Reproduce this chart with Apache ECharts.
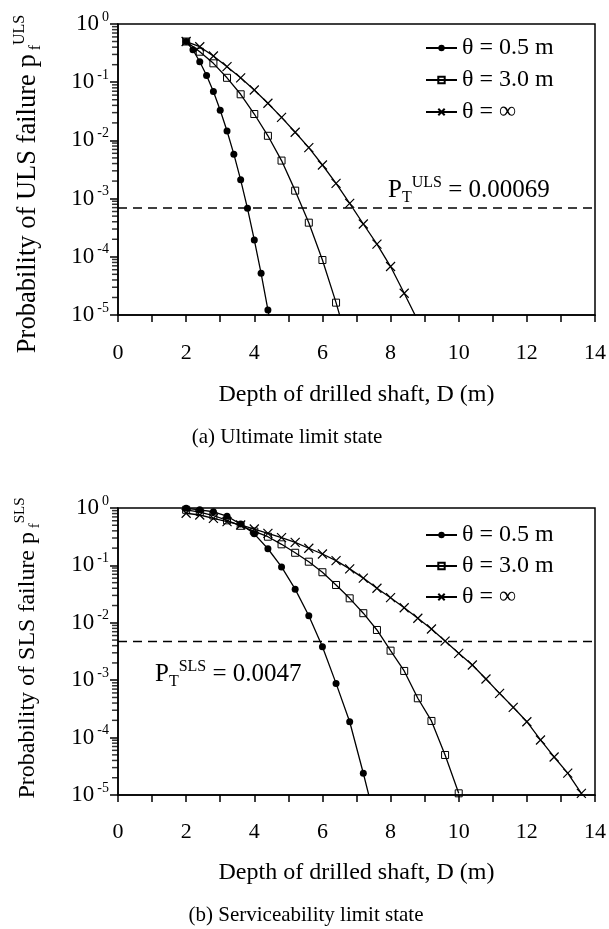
<!DOCTYPE html>
<html>
<head>
<meta charset="utf-8">
<script src="https://cdn.jsdelivr.net/npm/echarts@6/dist/echarts.min.js"></script>
<style>
html, body { margin: 0; padding: 0; background: #fff; }
#chart { width: 609px; height: 929px; }
</style>
</head>
<body>
<div id="chart"></div>
<script>
// ULS
var ulsD05 = [2.0, 2.2, 2.4, 2.6, 2.8, 3.0, 3.2, 3.4, 3.6, 3.8, 4.0, 4.2, 4.4, 4.6];
var ulsP05 = [0.50, 0.36, 0.225, 0.13, 0.069, 0.033, 0.0145, 0.0058, 0.0021, 0.00068, 0.000195, 5.2e-5, 1.22e-5, 2.9e-6];
var ulsD30 = [2.0, 2.4, 2.8, 3.2, 3.6, 4.0, 4.4, 4.8, 5.2, 5.6, 6.0, 6.4, 6.8];
var ulsP30 = [0.50, 0.334, 0.211, 0.119, 0.062, 0.0284, 0.012, 0.0045, 0.00137, 0.000386, 8.8e-5, 1.63e-5, 2.5e-6];
var ulsDinf = [2.0, 2.4, 2.8, 3.2, 3.6, 4.0, 4.4, 4.8, 5.2, 5.6, 6.0, 6.4, 6.8, 7.2, 7.6, 8.0, 8.4, 8.8];
var ulsPinf = [0.50, 0.407, 0.282, 0.185, 0.119, 0.0734, 0.0434, 0.0249, 0.0138, 0.0075, 0.00378, 0.00183, 0.00083, 0.000366, 0.000165, 6.8e-5, 2.36e-5, 8.0e-6];

// SLS
var slsD05 = [2.0, 2.4, 2.8, 3.2, 3.6, 4.0, 4.4, 4.8, 5.2, 5.6, 6.0, 6.4, 6.8, 7.2, 7.6];
var slsP05 = [0.99, 0.93, 0.86, 0.72, 0.524, 0.355, 0.195, 0.094, 0.0386, 0.0133, 0.00384, 0.00088, 0.000189, 2.39e-5, 2.7e-6];
var slsD30 = [2.0, 2.4, 2.8, 3.2, 3.6, 4.0, 4.4, 4.8, 5.2, 5.6, 6.0, 6.4, 6.8, 7.2, 7.6, 8.0, 8.4, 8.8, 9.2, 9.6, 10.0];
var slsP30 = [0.93, 0.85, 0.74, 0.61, 0.49, 0.39, 0.316, 0.233, 0.166, 0.116, 0.076, 0.0456, 0.0267, 0.0147, 0.0075, 0.00327, 0.00145, 0.000484, 0.000195, 4.98e-5, 1.07e-5];
var slsDinf = [2.0, 2.4, 2.8, 3.2, 3.6, 4.0, 4.4, 4.8, 5.2, 5.6, 6.0, 6.4, 6.8, 7.2, 7.6, 8.0, 8.4, 8.8, 9.2, 9.6, 10.0, 10.4, 10.8, 11.2, 11.6, 12.0, 12.4, 12.8, 13.2, 13.6];
var slsPinf = [0.81, 0.755, 0.66, 0.578, 0.506, 0.43, 0.362, 0.304, 0.252, 0.199, 0.158, 0.121, 0.087, 0.06, 0.040, 0.0274, 0.0183, 0.012, 0.0078, 0.0048, 0.00294, 0.00184, 0.00105, 0.00059, 0.000337, 0.000189, 9.1e-5, 4.6e-5, 2.4e-5, 1.07e-5];

var seriesNames = ['θ = 0.5 m', 'θ = 3.0 m', 'θ = ∞'];
var targetULS = 0.00069;
var targetSLS = 0.0047;
var targetX = [0, 14];
// decades that get the 2..9 minor ticks on the log axis
var decades = [1e-5, 1e-4, 1e-3, 1e-2, 1e-1];
var minorMult = [2, 3, 4, 5, 6, 7, 8, 9];

var FONT = 'Liberation Serif';
var chart = echarts.init(document.getElementById('chart'));

function pairs(xs, ys) {
    var out = [];
    for (var i = 0; i < xs.length; i++) {
        out.push([xs[i], ys[i]]);
    }
    return out;
}

var crossPath = 'path://M0,0L10,10M10,0L0,10';

function makeSeries(name, d, p, grid) {
    var s = {
        name: name,
        type: 'line',
        xAxisIndex: grid,
        yAxisIndex: grid,
        data: pairs(d, p),
        clip: true,
        z: 3,
        lineStyle: { color: '#000', width: 1.3 },
        emphasis: { disabled: true }
    };
    if (name == seriesNames[0]) {
        s.symbol = 'circle';
        s.symbolSize = 7;
        s.itemStyle = { color: '#000' };
    } else if (name == seriesNames[1]) {
        s.symbol = 'rect';
        s.symbolSize = 7;
        s.itemStyle = { color: 'rgba(255,255,255,0)', borderColor: '#000', borderWidth: 1 };
    } else {
        s.symbol = crossPath;
        s.symbolSize = 9;
        s.itemStyle = { color: '#000', borderColor: '#000', borderWidth: 1.2 };
    }
    return s;
}

// horizontal dashed target line
function targetLine(value, grid) {
    return {
        name: 'target',
        type: 'line',
        xAxisIndex: grid,
        yAxisIndex: grid,
        data: pairs(targetX, [value, value]),
        symbol: 'none',
        silent: true,
        z: 2,
        lineStyle: { color: '#000', width: 1.5, type: [9, 6] }
    };
}

// 2..9 x decade ticks, drawn as short bars just left of the y axis
function minorTicks(grid) {
    var pts = [];
    decades.forEach(function (d) {
        minorMult.forEach(function (m) { pts.push([0, d * m]); });
    });
    return {
        name: 'minor',
        type: 'scatter',
        xAxisIndex: grid,
        yAxisIndex: grid,
        clip: false,
        data: pts,
        symbol: 'rect',
        symbolSize: [6, 1.5],
        symbolOffset: [-3, 0],
        itemStyle: { color: '#000' },
        emphasis: { disabled: true },
        z: 6
    };
}

function xAxisOf(grid, gap, margin) {
    return {
        type: 'value',
        gridIndex: grid,
        min: 0,
        max: 14,
        interval: 1,
        axisLine: { show: true, lineStyle: { color: '#000', width: 1.5 } },
        axisTick: { show: true, length: 7, lineStyle: { color: '#000', width: 1.5 } },
        splitLine: { show: false },
        axisLabel: {
            margin: margin,
            color: '#000',
            fontFamily: FONT,
            fontSize: 22,
            formatter: function (v) { return v % 2 === 0 ? String(v) : ''; }
        },
        name: 'Depth of drilled shaft, D (m)',
        nameLocation: 'middle',
        nameGap: gap,
        nameTextStyle: { color: '#000', fontFamily: FONT, fontSize: 24 }
    };
}

function yAxisOf(grid) {
    return {
        type: 'log',
        logBase: 10,
        gridIndex: grid,
        min: 1e-5,
        max: 1,
        axisLine: { show: true, lineStyle: { color: '#000', width: 1.5 } },
        axisTick: { show: true, length: 8, lineStyle: { color: '#000', width: 1.5 } },
        splitLine: { show: true, lineStyle: { opacity: 0 } },
        axisLabel: {
            margin: 9,
            formatter: function (v) {
                var e = Math.round(Math.log10(v));
                return '{b|10}{s|' + (e === 0 ? '0' : String(e)) + '}';
            },
            rich: {
                b: { fontFamily: FONT, fontSize: 23, color: '#000', lineHeight: 28 },
                s: { fontFamily: FONT, fontSize: 14, color: '#000', lineHeight: 14, verticalAlign: 'top', padding: [0, 0, 0, 3] }
            }
        }
    };
}

function supText(x, y, text, size, rot) {
    var small = Math.round(size * 0.62);
    return {
        type: 'text',
        x: x,
        y: y,
        rotation: rot || 0,
        silent: true,
        style: {
            text: text,
            align: rot ? 'center' : 'left',
            verticalAlign: 'middle',
            fill: '#000',
            rich: {
                n: { fontFamily: FONT, fontSize: size, lineHeight: size + 6, fill: '#000' },
                b: { fontFamily: FONT, fontSize: small, lineHeight: small, verticalAlign: 'bottom', fill: '#000' },
                t: { fontFamily: FONT, fontSize: small, lineHeight: small, verticalAlign: 'top', fill: '#000' }
            }
        }
    };
}

function legendOf(top, gap) {
    return {
        left: 420,
        top: top,
        orient: 'vertical',
        itemWidth: 31,
        itemHeight: 8,
        itemGap: gap,
        selectedMode: false,
        data: seriesNames,
        textStyle: { fontFamily: FONT, fontSize: 24, color: '#000', lineHeight: 24 }
    };
}

chart.setOption({
    animation: false,
    grid: [
        { left: 118, top: 24, width: 478, height: 291, show: true, borderColor: '#000', borderWidth: 1.5 },
        { left: 118, top: 508, width: 478, height: 287, show: true, borderColor: '#000', borderWidth: 1.5 }
    ],
    xAxis: [xAxisOf(0, 68, 27), xAxisOf(1, 66, 26)],
    yAxis: [yAxisOf(0), yAxisOf(1)],
    legend: [legendOf(31, 8), legendOf(518, 7)],
    series: [
        makeSeries(seriesNames[0], ulsD05, ulsP05, 0),
        makeSeries(seriesNames[1], ulsD30, ulsP30, 0),
        makeSeries(seriesNames[2], ulsDinf, ulsPinf, 0),
        makeSeries(seriesNames[0], slsD05, slsP05, 1),
        makeSeries(seriesNames[1], slsD30, slsP30, 1),
        makeSeries(seriesNames[2], slsDinf, slsPinf, 1),
        targetLine(targetULS, 0),
        targetLine(targetSLS, 1),
        minorTicks(0),
        minorTicks(1)
    ],
    graphic: [
        supText(388, 190, '{n|P}{b|T}{t|ULS}{n| = ' + targetULS + '}', 25),
        supText(155, 674, '{n|P}{b|T}{t|SLS}{n| = ' + targetSLS + '}', 25),
        supText(28, 184, '{n|Probability of ULS failure p}{b| f}{t|ULS}', 26.5, Math.PI / 2),
        supText(28, 648, '{n|Probability of SLS failure p}{b| f}{t|SLS}', 24, Math.PI / 2),
        {
            type: 'text', x: 287, y: 437, silent: true,
            style: { text: '(a) Ultimate limit state', font: '21px "Liberation Serif"', fill: '#000', align: 'center', verticalAlign: 'middle' }
        },
        {
            type: 'text', x: 306, y: 915, silent: true,
            style: { text: '(b) Serviceability limit state', font: '21px "Liberation Serif"', fill: '#000', align: 'center', verticalAlign: 'middle' }
        }
    ]
});
</script>
</body>
</html>
